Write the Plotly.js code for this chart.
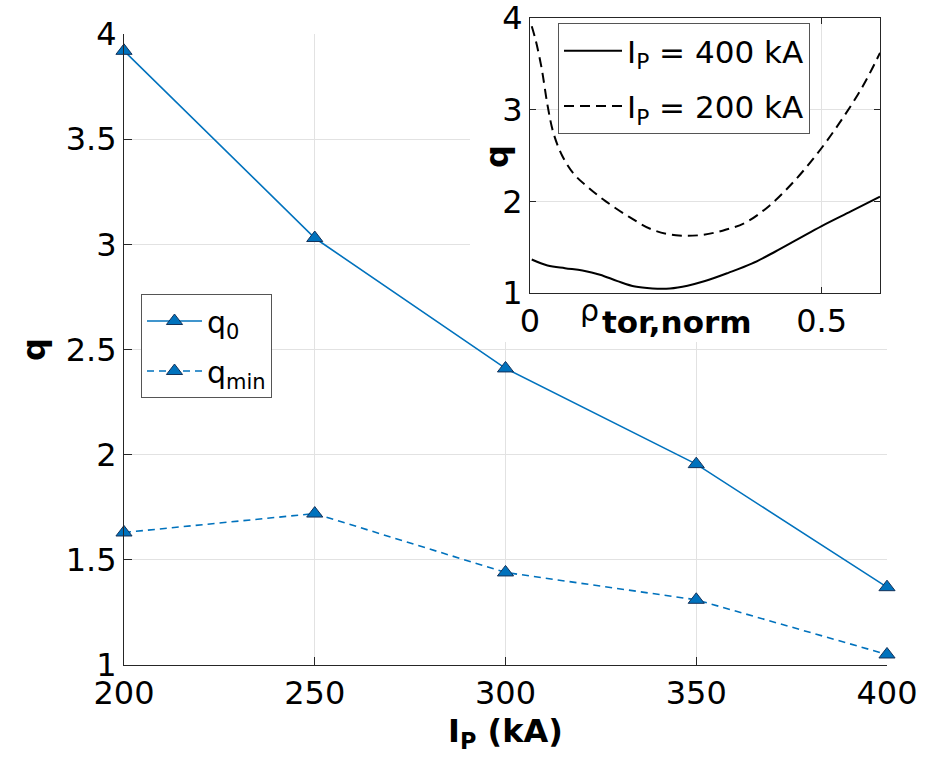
<!DOCTYPE html>
<html><head><meta charset="utf-8">
<script src="https://cdn.plot.ly/plotly-3.0.1.min.js"></script>
<style>html,body{margin:0;padding:0;background:#fff}#chart{width:930px;height:769px}</style>
</head><body><div id="chart"></div>
<script>
// Main chart data
const plasmaCurrent = [200, 250, 300, 350, 400];
const q0Values = [3.92, 3.03, 2.41, 1.955, 1.37];
const qminValues = [1.63, 1.72, 1.44, 1.31, 1.05];
const mainXTicks = [200, 250, 300, 350, 400];
const mainYTicks = [1, 1.5, 2, 2.5, 3, 3.5, 4];

// Inset profiles
const rho400 = [0.003, 0.03, 0.06, 0.09, 0.12, 0.15, 0.18, 0.21, 0.24, 0.27, 0.30, 0.34, 0.38, 0.42, 0.46, 0.50, 0.55, 0.60];
const q400 = [1.365, 1.30, 1.27, 1.245, 1.20, 1.13, 1.07, 1.05, 1.05, 1.08, 1.13, 1.22, 1.32, 1.45, 1.59, 1.73, 1.89, 2.05];
const rho200 = [0.003, 0.01, 0.02, 0.03, 0.04, 0.055, 0.075, 0.10, 0.13, 0.17, 0.21, 0.25, 0.29, 0.33, 0.37, 0.41, 0.45, 0.49, 0.53, 0.57, 0.60];
const q200 = [3.91, 3.75, 3.45, 3.05, 2.75, 2.50, 2.30, 2.15, 2.00, 1.83, 1.69, 1.63, 1.63, 1.68, 1.77, 1.95, 2.20, 2.50, 2.85, 3.25, 3.62];
const insetXTicks = [0, 0.5];
const insetYTicks = [1, 2, 3, 4];

const FONT = 'DejaVu Sans, Arial, sans-serif';
const BLUE = '#0072BD';
const EDGE = '#14325a';
const AXC = '#262626';
const GRID = '#e2e2e2';

// plot area in pixels: x 124..887, y 18..665
const px = v => (v - 124) / 763;
const py = v => (665 - v) / 647;

const traces = [
  {x: plasmaCurrent, y: q0Values, name: 'q<sub>0</sub>', type: 'scatter', mode: 'lines+markers',
   line: {color: BLUE, width: 1.6}, marker: {symbol: 'triangle-up', size: 14, color: BLUE, line: {color: EDGE, width: 1}},
   cliponaxis: false, xaxis: 'x', yaxis: 'y', legend: 'legend', legendgroup: 'a'},
  {x: plasmaCurrent, y: qminValues, name: 'q<sub>min</sub>', type: 'scatter', mode: 'lines+markers',
   line: {color: BLUE, width: 1.6, dash: '7px,5px'}, marker: {symbol: 'triangle-up', size: 14, color: BLUE, line: {color: EDGE, width: 1}},
   cliponaxis: false, xaxis: 'x', yaxis: 'y', legend: 'legend', legendgroup: 'b'},
  // empty trace that only creates the white mask subplot behind the inset
  {x: [], y: [], type: 'scatter', mode: 'lines', xaxis: 'x2', yaxis: 'y2', showlegend: false, hoverinfo: 'skip'},
  {x: rho400, y: q400, name: 'I<sub>P</sub> = 400 kA', type: 'scatter', mode: 'lines',
   line: {color: '#000', width: 2, shape: 'spline'}, xaxis: 'x3', yaxis: 'y3', legend: 'legend2', legendgroup: 'c'},
  {x: rho200, y: q200, name: 'I<sub>P</sub> = 200 kA', type: 'scatter', mode: 'lines',
   line: {color: '#000', width: 2, shape: 'spline', dash: '10px,6px'}, xaxis: 'x3', yaxis: 'y3', legend: 'legend2', legendgroup: 'd'}
];

const axisCommon = {
  showline: true, linecolor: AXC, linewidth: 1,
  ticks: 'inside', tickcolor: AXC,
  showgrid: true, gridcolor: GRID, zeroline: false,
  ticklabeloverflow: 'allow',
  tickfont: {family: FONT, size: 32, color: '#000'}
};

const layout = {
  width: 930, height: 769,
  margin: {l: 124, r: 43, t: 18, b: 104},
  paper_bgcolor: '#fff', plot_bgcolor: '#fff',
  font: {family: FONT, size: 32, color: '#000'},
  showlegend: true,
  xaxis: Object.assign({}, axisCommon, {
    domain: [0, 1], range: [200, 400], tickvals: mainXTicks, mirror: false, ticklen: 8,
    title: {text: '<b>I<sub>P</sub> (kA)</b>', font: {family: FONT, size: 32, color: '#000'}, standoff: 4},
    anchor: 'y'
  }),
  yaxis: Object.assign({}, axisCommon, {
    domain: [0, py(34)], range: [1, 4], tickvals: mainYTicks, mirror: false, ticklen: 8,
    title: {text: '<b>q</b>', font: {family: FONT, size: 32, color: '#000'}, standoff: 10},
    anchor: 'x'
  }),
  // invisible mask subplot (white background hides the main grid behind the inset)
  xaxis2: {domain: [px(470), 1], range: [0, 1], visible: false, anchor: 'y2', showgrid: false, zeroline: false, fixedrange: true},
  yaxis2: {domain: [py(342), 1], range: [0, 1], visible: false, anchor: 'x2', showgrid: false, zeroline: false, fixedrange: true},
  xaxis3: Object.assign({}, axisCommon, {
    domain: [px(530), px(880)], range: [0, 0.6], tickvals: insetXTicks, ticktext: ['0', '0.5'],
    mirror: 'ticks', ticklen: 6, anchor: 'y3'
  }),
  yaxis3: Object.assign({}, axisCommon, {
    domain: [py(293), 1], range: [1, 4], tickvals: insetYTicks,
    mirror: 'ticks', ticklen: 6, anchor: 'x3'
  }),
  legend: {
    x: px(141), y: py(294), xref: 'paper', yref: 'paper', xanchor: 'left', yanchor: 'top',
    bgcolor: '#fff', bordercolor: '#555', borderwidth: 1,
    font: {family: FONT, size: 30, color: '#000'}, itemwidth: 55, tracegroupgap: 8
  },
  legend2: {
    x: px(558), y: py(23), xref: 'paper', yref: 'paper', xanchor: 'left', yanchor: 'top',
    bgcolor: '#fff', bordercolor: '#555', borderwidth: 1,
    font: {family: FONT, size: 31, color: '#000'}, itemwidth: 58, tracegroupgap: 12
  },
  annotations: [
    {text: '<b>q</b>', xref: 'paper', yref: 'paper', x: px(497), y: py(157),
     showarrow: false, textangle: -90, font: {family: FONT, size: 32, color: '#000'}, xanchor: 'center', yanchor: 'middle'},
    {text: 'ρ', xref: 'paper', yref: 'paper', x: px(589), y: py(311),
     showarrow: false, font: {family: FONT, size: 30, color: '#000'}, xanchor: 'center', yanchor: 'middle'},
    {text: '<b>tor,norm</b>', xref: 'paper', yref: 'paper', x: px(600), y: py(322),
     showarrow: false, font: {family: FONT, size: 31, color: '#000'}, xanchor: 'left', yanchor: 'middle'}
  ]
};

Plotly.newPlot('chart', traces, layout, {displayModeBar: false, staticPlot: true});
</script>
</body></html>
